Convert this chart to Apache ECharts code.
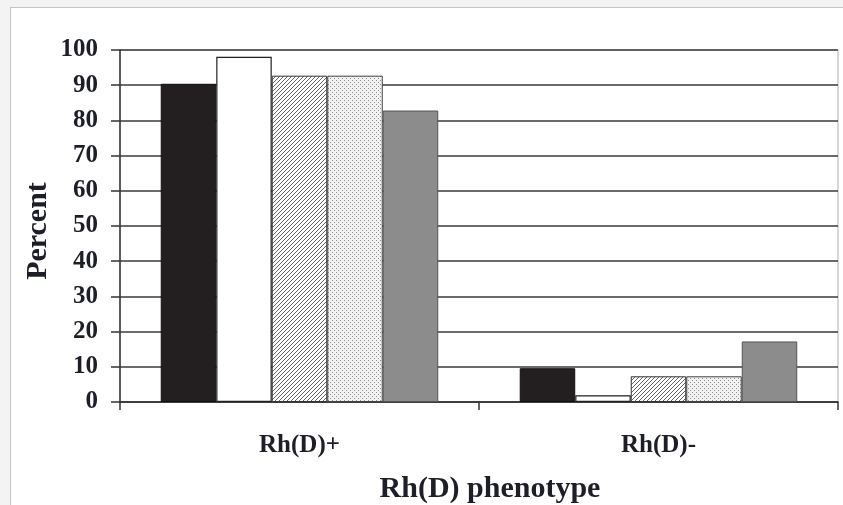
<!DOCTYPE html>
<html>
<head>
<meta charset="utf-8">
<script src="https://cdn.jsdelivr.net/npm/echarts@6/dist/echarts.min.js"></script>
<style>
html,body{margin:0;padding:0;background:#f3f3f3;overflow:hidden;}
#panel{position:absolute;left:10px;top:7px;width:900px;height:600px;background:#fff;border:1px solid #c4c4c4;}
#chart{position:absolute;left:0;top:0;width:843px;height:505px;}
</style>
</head>
<body>
<div id="panel"></div>
<div id="chart"></div>
<script>
var categories = ['Rh(D)+', 'Rh(D)-'];
var seriesNames = ['Group 1', 'Group 2', 'Group 3', 'Group 4', 'Group 5'];
var group1 = [90.4, 9.6];
var group2 = [98.1, 1.9];
var group3 = [92.7, 7.3];
var group4 = [92.7, 7.3];
var group5 = [82.8, 17.2];
var yTicks = [0, 10, 20, 30, 40, 50, 60, 70, 80, 90, 100];
var yTitle = 'Percent';

function hatchPattern() {
  var c = document.createElement('canvas');
  c.width = 4; c.height = 4;
  var g = c.getContext('2d');
  g.fillStyle = '#ffffff'; g.fillRect(0, 0, 4, 4);
  g.strokeStyle = '#555555'; g.lineWidth = 0.9;
  g.beginPath();
  g.moveTo(0, 4); g.lineTo(4, 0);
  g.moveTo(-1, 1); g.lineTo(1, -1);
  g.moveTo(3, 5); g.lineTo(5, 3);
  g.stroke();
  return c;
}
function dotPattern() {
  var c = document.createElement('canvas');
  c.width = 4; c.height = 4;
  var g = c.getContext('2d');
  g.fillStyle = '#f2f2f2'; g.fillRect(0, 0, 4, 4);
  g.fillStyle = '#8f8f8f';
  g.fillRect(0, 0, 1, 1);
  g.fillRect(2, 2, 1, 1);
  return c;
}

var styles = [
  {color: '#231f20', borderColor: '#111', borderWidth: 1},
  {color: '#ffffff', borderColor: '#222', borderWidth: 1.2},
  {color: {image: hatchPattern(), repeat: 'repeat'}, borderColor: '#333', borderWidth: 1},
  {color: {image: dotPattern(), repeat: 'repeat'}, borderColor: '#444', borderWidth: 1},
  {color: '#8c8c8c', borderColor: '#555', borderWidth: 1}
];
var dataSets = [group1, group2, group3, group4, group5];

var font = 'Liberation Serif, Times New Roman, serif';
var chart = echarts.init(document.getElementById('chart'), null, {renderer: 'canvas'});
chart.setOption({
  backgroundColor: 'transparent',
  animation: false,
  grid: {left: 120, right: 5, top: 50, bottom: 103, containLabel: false, outerBoundsMode: 'none',
    show: true, borderColor: '#b0b0b0', borderWidth: 1, backgroundColor: 'transparent'},
  graphic: [{
    type: 'text',
    x: 38, y: 231,
    rotation: Math.PI / 2,
    style: {text: yTitle, fontFamily: font, fontWeight: 'bold', fontSize: 30, fill: '#1e1e28',
      align: 'center', verticalAlign: 'middle'}
  }],
  xAxis: {
    type: 'category',
    data: categories,
    name: 'Rh(D) phenotype',
    nameLocation: 'middle',
    nameGap: 72,
    nameTextStyle: {fontFamily: font, fontWeight: 'bold', fontSize: 30, color: '#1e1e28', padding: [0, 0, 0, 22]},
    axisLine: {lineStyle: {color: '#333', width: 1.5}},
    axisTick: {show: true, length: 8, lineStyle: {color: '#333', width: 1.5}},
    axisLabel: {fontFamily: font, fontWeight: 'bold', fontSize: 25, color: '#1e1e28', margin: 31}
  },
  yAxis: {
    type: 'value',
    min: 0, max: 100, interval: 10,
    axisLine: {show: true, lineStyle: {color: '#333', width: 1.5}},
    axisTick: {show: true, inside: false, length: 9, lineStyle: {color: '#333', width: 1.5}},
    axisLabel: {fontFamily: font, fontWeight: 'bold', fontSize: 25, color: '#1e1e28', margin: 22,
      formatter: function (v) { return yTicks.indexOf(v) >= 0 ? String(v) : ''; }},
    splitLine: {show: true, lineStyle: {color: '#3a3a3a', width: 1.5}}
  },
  series: dataSets.map(function (d, i) {
    return {
      name: seriesNames[i],
      type: 'bar',
      data: d,
      barGap: '0%',
      barCategoryGap: '22.7%',
      itemStyle: styles[i]
    };
  })
});
</script>
</body>
</html>
